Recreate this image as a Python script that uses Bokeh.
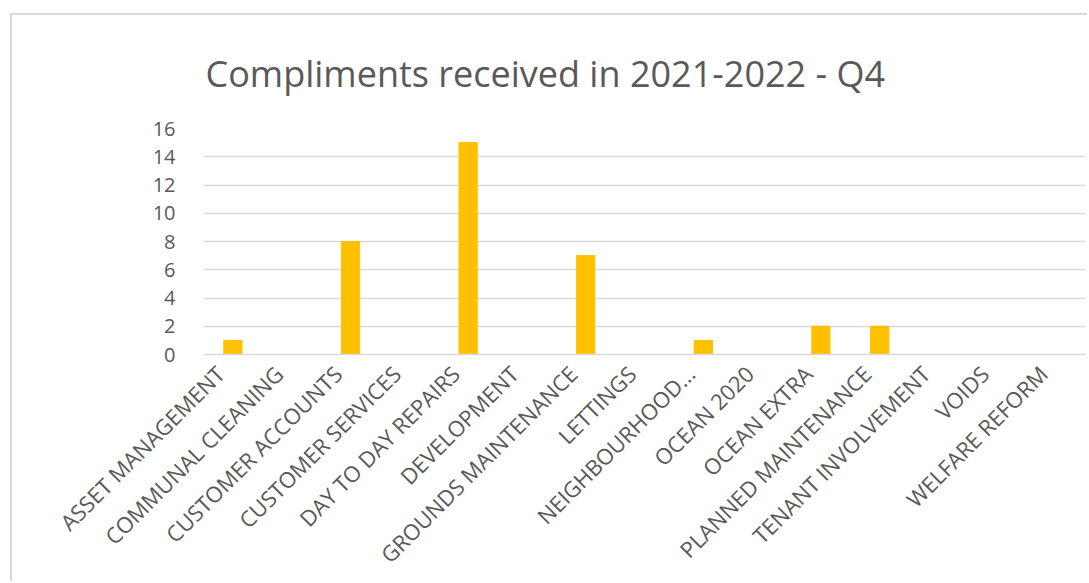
from bokeh.plotting import figure
from bokeh.models import FixedTicker, Range1d, LinearAxis
from bokeh.embed import file_html
from bokeh.resources import INLINE
import math

categories = ["ASSET MANAGEMENT", "COMMUNAL CLEANING", "CUSTOMER ACCOUNTS", "CUSTOMER SERVICES",
              "DAY TO DAY REPAIRS", "DEVELOPMENT", "GROUNDS MAINTENANCE", "LETTINGS",
              "NEIGHBOURHOOD...", "OCEAN 2020", "OCEAN EXTRA", "PLANNED MAINTENANCE",
              "TENANT INVOLVEMENT", "VOIDS", "WELFARE REFORM"]
values = [1, 0, 8, 0, 15, 0, 7, 0, 1, 0, 2, 2, 0, 0, 0]
y_ticks = [0, 2, 4, 6, 8, 10, 12, 14, 16]
title_text = "Compliments received in 2021-2022 - Q4"

GRAY = "#d9d9d9"
TEXT = "#595959"
FONT = "Open Sans"

n = len(categories)
x_pos = [i + 0.5 for i in range(n)]

p = figure(width=1077, height=568, x_range=Range1d(0, n), y_range=(0, 16),
           output_backend="svg", toolbar_location=None, x_axis_location=None,
           min_border_left=191, min_border_right=4, min_border_top=112, min_border_bottom=229)
p.margin = (13, 0, 0, 10)
p.styles = {"border-left": "2px solid #d9d9d9", "border-top": "2px solid #d9d9d9"}
p.vbar(x=x_pos, top=values, width=0.31, color="#FFC000")

p.title.text = title_text
p.title.align = "left"
p.title.offset = 2
p.title.standoff = 62
p.title.text_font = FONT
p.title.text_font_size = "36px"
p.title.text_font_style = "normal"
p.title.text_color = TEXT

p.outline_line_color = None
p.xgrid.grid_line_color = None
p.ygrid.grid_line_color = GRAY
p.ygrid.grid_line_width = 1.5
p.yaxis.ticker = FixedTicker(ticks=y_ticks)
p.yaxis.axis_line_color = None
p.yaxis.major_tick_line_color = None
p.yaxis.minor_tick_line_color = None
p.yaxis.major_label_standoff = 22
p.yaxis.major_label_text_font = FONT
p.yaxis.major_label_text_font_size = "20px"
p.yaxis.major_label_text_color = TEXT

# label axis, shifted slightly relative to the bar centres like the original
p.extra_x_ranges["lab"] = Range1d(-0.28, n - 0.28)
xa = LinearAxis(x_range_name="lab", ticker=FixedTicker(ticks=list(range(n))),
                major_label_overrides={i: c for i, c in enumerate(categories)})
xa.axis_line_color = GRAY
xa.axis_line_width = 1.5
xa.major_tick_line_color = None
xa.minor_tick_line_color = None
xa.major_label_orientation = math.pi / 4
xa.major_label_standoff = 9
xa.major_label_text_font = FONT
xa.major_label_text_font_size = "22px"
xa.major_label_text_color = TEXT
p.add_layout(xa, "below")

open("out.html", "w").write(file_html(p, INLINE))
